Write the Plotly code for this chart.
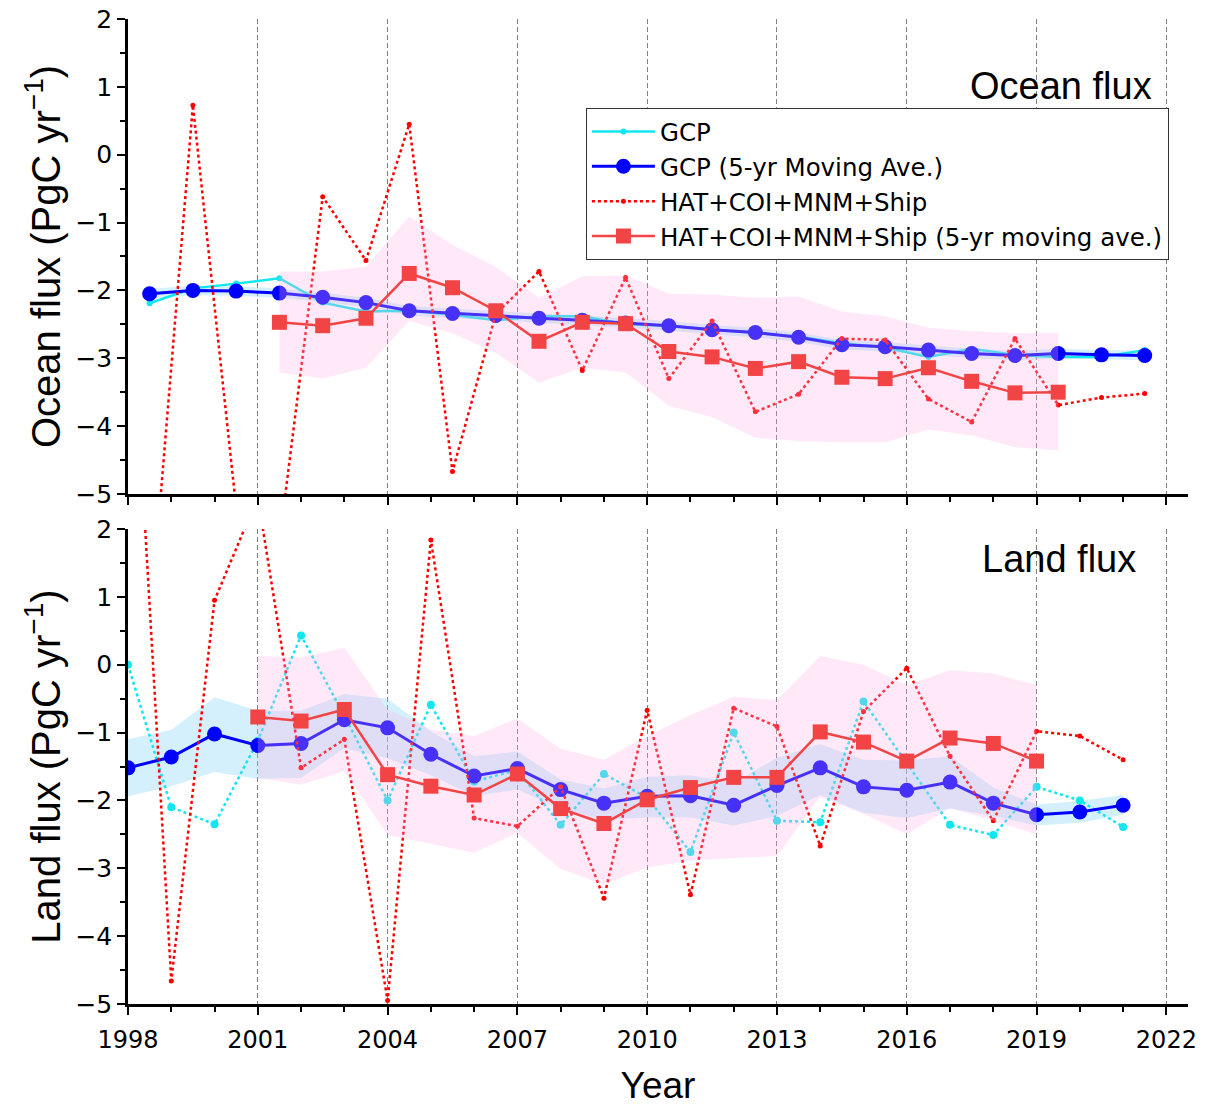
import plotly.graph_objects as go
from plotly.subplots import make_subplots

# ---------------- data ----------------
# Ocean flux: annual values plotted at mid-year
ocean_years = [1998.5, 1999.5, 2000.5, 2001.5, 2002.5, 2003.5, 2004.5, 2005.5,
               2006.5, 2007.5, 2008.5, 2009.5, 2010.5, 2011.5, 2012.5, 2013.5,
               2014.5, 2015.5, 2016.5, 2017.5, 2018.5, 2019.5, 2020.5, 2021.5]
ocean_ma_years = [2001.5, 2002.5, 2003.5, 2004.5, 2005.5, 2006.5, 2007.5, 2008.5,
                  2009.5, 2010.5, 2011.5, 2012.5, 2013.5, 2014.5, 2015.5, 2016.5,
                  2017.5, 2018.5, 2019.5]

gcp_ocean = [-2.19, -1.97, -1.90, -1.82, -2.18, -2.31, -2.30, -2.36, -2.44, -2.38,
             -2.38, -2.50, -2.52, -2.57, -2.62, -2.68, -2.78, -2.84, -2.98, -2.86,
             -2.95, -2.98, -2.98, -2.88]
gcp_ocean_ma = [-2.05, -2.00, -2.01, -2.04, -2.10, -2.18, -2.30, -2.34, -2.37, -2.41,
                -2.44, -2.48, -2.52, -2.58, -2.62, -2.69, -2.80, -2.83, -2.88, -2.93,
                -2.96, -2.93, -2.95, -2.96]
gcp_ocean_hi = [-1.98, -1.93, -1.94, -1.97, -2.03, -2.11, -2.23, -2.27, -2.30, -2.34,
                -2.37, -2.41, -2.45, -2.51, -2.55, -2.62, -2.73, -2.76, -2.81, -2.86,
                -2.89, -2.86, -2.88, -2.89]
gcp_ocean_lo = [-2.12, -2.07, -2.08, -2.11, -2.17, -2.25, -2.37, -2.41, -2.44, -2.48,
                -2.51, -2.55, -2.59, -2.65, -2.69, -2.76, -2.87, -2.90, -2.95, -3.00,
                -3.03, -3.00, -3.02, -3.03]

hat_ocean = [-7.00, 0.73, -5.20, -5.70, -0.62, -1.56, 0.45, -4.67, -2.35, -1.72,
             -3.18, -1.81, -3.30, -2.45, -3.79, -3.53, -2.71, -2.73, -3.60, -3.94,
             -2.71, -3.69, -3.58, -3.52]
hat_ocean_ma = [-2.47, -2.52, -2.41, -1.75, -1.96, -2.30, -2.75, -2.47, -2.49, -2.90,
                -2.98, -3.15, -3.05, -3.28, -3.30, -3.14, -3.34, -3.51, -3.50]
hat_ocean_hi = [-1.72, -1.72, -1.65, -0.91, -1.33, -1.65, -2.11, -1.79, -1.78, -2.05,
                -2.06, -2.11, -2.09, -2.31, -2.38, -2.55, -2.60, -2.63, -2.62]
hat_ocean_lo = [-3.21, -3.30, -3.14, -2.45, -2.63, -2.92, -3.36, -3.14, -3.21, -3.70,
                -3.87, -4.17, -4.22, -4.24, -4.24, -4.05, -4.14, -4.31, -4.36]

# Land flux: annual values plotted at the start of each year
land_years = [1998, 1999, 2000, 2001, 2002, 2003, 2004, 2005, 2006, 2007, 2008, 2009,
              2010, 2011, 2012, 2013, 2014, 2015, 2016, 2017, 2018, 2019, 2020, 2021]
land_ma_years = [2001, 2002, 2003, 2004, 2005, 2006, 2007, 2008, 2009, 2010,
                 2011, 2012, 2013, 2014, 2015, 2016, 2017, 2018, 2019]

gcp_land = [0.00, -2.10, -2.35, -1.12, 0.43, -0.75, -2.00, -0.59, -1.72, -1.55,
            -2.36, -1.61, -1.96, -2.76, -1.00, -2.30, -2.32, -0.54, -1.45, -2.36,
            -2.51, -1.80, -2.00, -2.39]
gcp_land_ma = [-1.52, -1.36, -1.02, -1.19, -1.16, -0.81, -0.93, -1.32, -1.64, -1.53,
               -1.84, -2.04, -1.94, -1.93, -2.07, -1.78, -1.52, -1.80, -1.85, -1.73,
               -2.04, -2.21, -2.17, -2.07]
gcp_land_hi = [-1.10, -0.96, -0.48, -0.68, -0.68, -0.43, -0.50, -0.98, -1.35, -1.28,
               -1.69, -1.82, -1.65, -1.63, -1.74, -1.37, -1.17, -1.40, -1.41, -1.35,
               -1.81, -2.06, -2.01, -1.92]
gcp_land_lo = [-1.94, -1.79, -1.58, -1.68, -1.67, -1.23, -1.38, -1.63, -1.93, -1.84,
               -2.13, -2.28, -2.25, -2.25, -2.37, -2.23, -1.92, -2.18, -2.26, -2.12,
               -2.23, -2.37, -2.33, -2.21]

hat_land = [6.40, -4.66, 0.95, 2.47, -1.52, -1.10, -4.95, 1.84, -2.26, -2.38,
            -1.80, -3.44, -0.67, -3.39, -0.64, -0.91, -2.67, -0.69, -0.05, -1.35,
            -2.30, -0.98, -1.05, -1.40]
hat_land_ma = [-0.77, -0.83, -0.66, -1.62, -1.79, -1.92, -1.61, -2.12, -2.34, -1.99,
               -1.81, -1.66, -1.66, -0.99, -1.14, -1.42, -1.08, -1.16, -1.42]
hat_land_hi = [0.13, 0.11, 0.25, -0.66, -0.95, -1.05, -0.79, -1.24, -1.40, -1.05,
               -0.74, -0.47, -0.52, 0.13, 0.00, -0.30, -0.08, -0.13, -0.30]
hat_land_lo = [-1.67, -1.77, -1.57, -2.51, -2.64, -2.77, -2.48, -3.01, -3.24, -2.99,
               -2.89, -2.85, -2.82, -1.95, -2.20, -2.50, -2.11, -2.30, -2.50]

x_tick_vals = [1998, 2001, 2004, 2007, 2010, 2013, 2016, 2019, 2022]
y_tick_vals = [2, 1, 0, -1, -2, -3, -4, -5]

names = ["GCP", "GCP (5-yr Moving Ave.)", "HAT+COI+MNM+Ship",
         "HAT+COI+MNM+Ship (5-yr moving ave.)"]

# ---------------- styles ----------------
CYAN = "#12E6EE"
BLUE = "#0000FF"
RED = "#FF0000"
RED_MA = "#F24444"
PINK_FILL = "rgba(255,175,230,0.28)"
BLUE_FILL = "rgba(130,212,245,0.35)"
BASE_FONT = "Liberation Sans, Arial, sans-serif"
TICK_FONT = "DejaVu Sans, Liberation Sans, sans-serif"
LEGEND_FONT = "DejaVu Sans, Liberation Sans, sans-serif"

fig = make_subplots(rows=2, cols=1, shared_xaxes=True, vertical_spacing=0.0355)


def band(xs, hi, lo, color, row):
    fig.add_trace(go.Scatter(x=list(xs) + list(xs)[::-1], y=list(hi) + list(lo)[::-1],
                             fill="toself", fillcolor=color, line=dict(width=0),
                             mode="lines", hoverinfo="skip", showlegend=False),
                  row=row, col=1)


def panel(row, xs, xs_ma, gcp, gcp_ma, gcp_hi, gcp_lo, hat, hat_ma, hat_hi, hat_lo,
          gcp_dash, gcp_msize, legend):
    band(xs, gcp_hi, gcp_lo, BLUE_FILL, row)
    fig.add_trace(go.Scatter(x=xs, y=gcp, mode="lines+markers", name=names[0],
                             line=dict(color=CYAN, width=2.5, dash=gcp_dash),
                             marker=dict(color=CYAN, size=gcp_msize),
                             showlegend=legend, legendrank=1), row=row, col=1)
    fig.add_trace(go.Scatter(x=xs, y=gcp_ma, mode="lines+markers", name=names[1],
                             line=dict(color=BLUE, width=3),
                             marker=dict(color=BLUE, size=15, symbol="circle"),
                             showlegend=legend, legendrank=2), row=row, col=1)
    fig.add_trace(go.Scatter(x=xs, y=hat, mode="lines+markers", name=names[2],
                             line=dict(color=RED, width=2.5, dash="dot"),
                             marker=dict(color=RED, size=5),
                             showlegend=legend, legendrank=3), row=row, col=1)
    band(xs_ma, hat_hi, hat_lo, PINK_FILL, row)
    fig.add_trace(go.Scatter(x=xs_ma, y=hat_ma, mode="lines+markers", name=names[3],
                             line=dict(color=RED_MA, width=2.5),
                             marker=dict(color=RED_MA, size=15, symbol="square"),
                             showlegend=legend, legendrank=4), row=row, col=1)


panel(1, ocean_years, ocean_ma_years, gcp_ocean, gcp_ocean_ma, gcp_ocean_hi, gcp_ocean_lo,
      hat_ocean, hat_ocean_ma, hat_ocean_hi, hat_ocean_lo, "solid", 6, True)
panel(2, land_years, land_ma_years, gcp_land, gcp_land_ma, gcp_land_hi, gcp_land_lo,
      hat_land, hat_land_ma, hat_land_hi, hat_land_lo, "dot", 8, False)

xaxis_common = dict(range=[1998, 2022.5], tickvals=x_tick_vals, ticks="outside",
                    ticklen=8, tickwidth=2, tickcolor="black", showline=True,
                    linecolor="black", linewidth=3, showgrid=True, gridcolor="#7f7f7f",
                    gridwidth=1, griddash="5px,3px", zeroline=False,
                    ticklabelstandoff=4,
                    minor=dict(dtick=1, tick0=1998, ticks="outside", ticklen=5,
                               tickwidth=2, tickcolor="black", showgrid=False),
                    tickfont=dict(family=TICK_FONT, size=24, color="black"))
yaxis_common = dict(range=[-5, 2], tickvals=y_tick_vals, ticks="outside", ticklen=8,
                    tickwidth=2, tickcolor="black", showline=True, linecolor="black",
                    linewidth=2.5, showgrid=False, zeroline=False,
                    minor=dict(dtick=0.5, tick0=0, ticks="outside", ticklen=5,
                               tickwidth=2, tickcolor="black", showgrid=False),
                    tickfont=dict(family=TICK_FONT, size=25, color="black"))

fig.update_xaxes(**xaxis_common)
fig.update_xaxes(showticklabels=False, row=1, col=1)
fig.update_xaxes(title=dict(text="Year", font=dict(family=BASE_FONT, size=37, color="black"),
                            standoff=22), row=2, col=1)
fig.update_yaxes(**yaxis_common)
fig.update_yaxes(domain=[0.5178, 1.0],
                 title=dict(text="Ocean flux (PgC yr<sup>−1</sup>)", standoff=3,
                            font=dict(family=BASE_FONT, size=40, color="black")),
                 row=1, col=1)
fig.update_yaxes(domain=[0.0, 0.4822],
                 title=dict(text="Land flux (PgC yr<sup>−1</sup>)", standoff=3,
                            font=dict(family=BASE_FONT, size=40, color="black")),
                 row=2, col=1)

fig.add_annotation(text="Ocean flux", xref="paper", yref="paper", x=0.968, y=0.932,
                   xanchor="right", yanchor="middle", showarrow=False,
                   font=dict(family=BASE_FONT, size=38, color="black"))
fig.add_annotation(text="Land flux", xref="paper", yref="paper", x=0.953, y=0.4518,
                   xanchor="right", yanchor="middle", showarrow=False,
                   font=dict(family=BASE_FONT, size=38, color="black"))

fig.update_layout(
    width=1217, height=1106,
    margin=dict(l=128, r=29, t=19, b=102, autoexpand=False),
    paper_bgcolor="white", plot_bgcolor="white",
    font=dict(family=BASE_FONT, color="black"),
    legend=dict(x=0.432, y=0.9096, xanchor="left", yanchor="top",
                bgcolor="white", bordercolor="#333333", borderwidth=1,
                font=dict(family=LEGEND_FONT, size=24.5, color="black"),
                itemwidth=63, tracegroupgap=0),
)

fig.write_html("out.html")
